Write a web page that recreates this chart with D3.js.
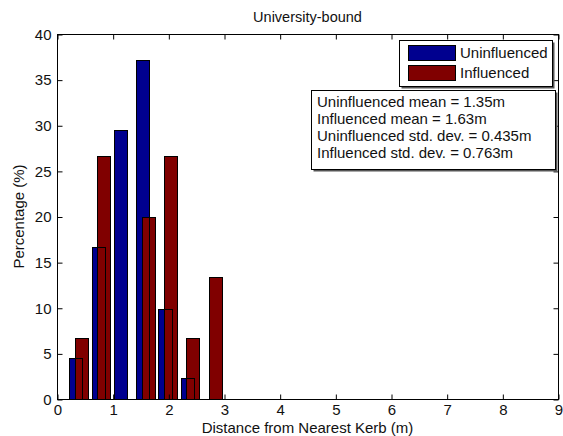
<!DOCTYPE html>
<html><head><meta charset="utf-8">
<script src="https://cdn.jsdelivr.net/npm/d3@7"></script>
<style>
html,body{margin:0;padding:0;background:#fff;}
text{font-family:Arial,"Liberation Sans",Helvetica,sans-serif;}
</style></head>
<body><svg id="c" width="563" height="436"></svg>
<script>
const title = "University-bound";
const xLabel = "Distance from Nearest Kerb (m)";
const yLabel = "Percentage (%)";
const seriesNames = ["Uninfluenced", "Influenced"];
const seriesColors = ["#00008f", "#800000"];
const uninfluencedX = [0.34, 0.74, 1.14, 1.54, 1.94, 2.34];
const uninfluencedY = [4.5, 16.7, 29.5, 37.2, 9.9, 2.3];
const influencedX = [0.44, 0.84, 1.24, 1.64, 2.04, 2.44, 2.84];
const influencedY = [6.67, 26.67, 0, 20, 26.67, 6.67, 13.33];
const barWidth = 0.234;
const xTicks = [0,1,2,3,4,5,6,7,8,9];
const yTicks = [0,5,10,15,20,25,30,35,40];
const statsLines = ["Uninfluenced mean = 1.35m","Influenced mean = 1.63m","Uninfluenced std. dev. = 0.435m","Influenced std. dev. = 0.763m"];

const svg = d3.select("#c");
const L=57, R=558, T=34, B=399;
const x = d3.scaleLinear().domain([0,9]).range([L,R]);
const y = d3.scaleLinear().domain([0,40]).range([B,T]);
const fs = 15;

const uData = uninfluencedX.map((v,i)=>({x:v,y:uninfluencedY[i]}));
const iData = influencedX.map((v,i)=>({x:v,y:influencedY[i]}));

function bars(data, color, fill){
  svg.append("g").selectAll("rect").data(data.filter(d=>d.y>0)).join("rect")
    .attr("x", d=>Math.round(x(d.x-barWidth/2))+0.5)
    .attr("width", d=>Math.round(x(d.x+barWidth/2))-Math.round(x(d.x-barWidth/2)))
    .attr("y", d=>Math.round(y(d.y))+0.5)
    .attr("height", d=>Math.round(y(0))-Math.round(y(d.y)))
    .attr("fill", fill ? color : "none")
    .attr("stroke", "#000").attr("stroke-width", 1);
}
bars(uData, seriesColors[0], true);
bars(iData, seriesColors[1], true);
bars(uData, seriesColors[0], false);

// axes frame
const tl = 5;
svg.append("rect").attr("x",L+0.5).attr("y",T+0.5).attr("width",R-L).attr("height",B-T)
  .attr("fill","none").attr("stroke","#000");
const gx = svg.append("g").attr("transform",`translate(0.5,${B+0.5})`)
  .call(d3.axisBottom(x).tickValues(xTicks).tickSize(-tl).tickPadding(5).tickFormat(d3.format("d")));
const gxt = svg.append("g").attr("transform",`translate(0.5,${T+0.5})`)
  .call(d3.axisTop(x).tickValues(xTicks).tickSize(-tl).tickFormat(""));
const gy = svg.append("g").attr("transform",`translate(${L+0.5},0.5)`)
  .call(d3.axisLeft(y).tickValues(yTicks).tickSize(-tl).tickPadding(6).tickFormat(d3.format("d")));
const gyr = svg.append("g").attr("transform",`translate(${R+0.5},0.5)`)
  .call(d3.axisRight(y).tickValues(yTicks).tickSize(-tl).tickFormat(""));
[gx,gxt,gy,gyr].forEach(g=>{g.select(".domain").remove(); g.selectAll("line").attr("stroke","#000");
  g.selectAll("text").attr("font-size",fs).attr("fill","#111").attr("font-family","Arial,'Liberation Sans',sans-serif");});

svg.append("text").attr("x",(L+R)/2).attr("y",22).attr("text-anchor","middle").attr("font-size",fs-0.5).attr("fill","#111").text(title);
svg.append("text").attr("x",(L+R)/2).attr("y",433).attr("text-anchor","middle").attr("font-size",fs).attr("fill","#111").text(xLabel);
svg.append("text").attr("transform",`translate(24,${(T+B)/2}) rotate(-90)`).attr("text-anchor","middle").attr("font-size",fs).attr("fill","#111").text(yLabel);

// legend
const lg = svg.append("g");
const lx=399, ly=40, lw=153, lh=46;
lg.append("rect").attr("x",lx+2.5).attr("y",ly+2.5).attr("width",lw).attr("height",lh).attr("fill","#555");
lg.append("rect").attr("x",lx+0.5).attr("y",ly+0.5).attr("width",lw).attr("height",lh).attr("fill","#fff").attr("stroke","#000");
seriesNames.forEach((n,i)=>{
  const yy = ly+5+i*20;
  lg.append("rect").attr("x",lx+9.5).attr("y",yy+0.5).attr("width",47).attr("height",15)
    .attr("fill",seriesColors[i]).attr("stroke","#000");
  lg.append("text").attr("x",lx+61).attr("y",yy+13).attr("font-size",fs).attr("fill","#111").text(n);
});

// stats box
const sx=311, sy=90, sw=244, sh=79;
svg.append("rect").attr("x",sx+2.5).attr("y",sy+2.5).attr("width",sw).attr("height",sh).attr("fill","#555");
svg.append("rect").attr("x",sx+0.5).attr("y",sy+0.5).attr("width",sw).attr("height",sh).attr("fill","#fff").attr("stroke","#000");
statsLines.forEach((s,i)=>{
  svg.append("text").attr("x",sx+6).attr("y",sy+17+i*17).attr("font-size",fs).attr("fill","#111").text(s);
});
</script></body></html>
